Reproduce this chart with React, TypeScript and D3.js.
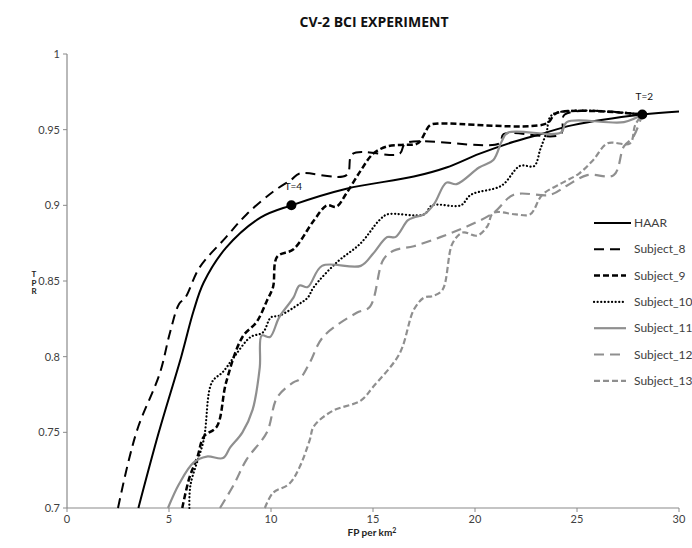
import React from "react";
import * as d3 from "d3";

type P = [number, number];

const title = "CV-2 BCI EXPERIMENT";
const xTicks = [0, 5, 10, 15, 20, 25, 30];
const yTicks = [0.7, 0.75, 0.8, 0.85, 0.9, 0.95, 1];

const haar: P[] = [[3.5,0.7],[4.5,0.75],[5.6,0.8],[6.2,0.83],[6.7,0.849],[7.8,0.872],[9.5,0.892],[11,0.9],[13.7,0.911],[17,0.919],[18.6,0.925],[20.2,0.934],[21.9,0.942],[23.2,0.947],[24.8,0.953],[28.2,0.96],[30,0.962]];
const subject8: P[] = [[2.5,0.7],[3.0,0.73],[3.5,0.754],[4.55,0.789],[5.05,0.816],[5.5,0.835],[5.8,0.839],[6.5,0.859],[7.8,0.879],[8.8,0.894],[10.1,0.909],[11.0,0.917],[11.4,0.921],[13.7,0.92],[14.0,0.934],[16.3,0.934],[16.6,0.941],[21.2,0.941],[21.4,0.947],[24.2,0.947],[24.4,0.96],[28.2,0.96]];
const subject9: P[] = [[5.65,0.7],[6.0,0.72],[6.4,0.734],[6.7,0.747],[7.35,0.754],[7.8,0.783],[8.6,0.813],[9.3,0.823],[9.8,0.837],[10.1,0.846],[10.3,0.866],[11.1,0.871],[12.1,0.89],[12.75,0.9],[13.2,0.899],[13.7,0.908],[14.4,0.923],[15.0,0.934],[15.7,0.939],[16.5,0.94],[17.2,0.941],[17.8,0.953],[18.2,0.954],[23.5,0.954],[24.0,0.961],[28.2,0.96]];
const subject10: P[] = [[6.0,0.7],[6.05,0.715],[6.7,0.745],[7.1,0.783],[7.65,0.79],[8.2,0.8],[9.0,0.813],[9.6,0.816],[10.0,0.826],[10.4,0.827],[11.4,0.835],[11.8,0.839],[12.1,0.846],[13.2,0.862],[14.4,0.875],[15.3,0.89],[15.7,0.894],[17.5,0.894],[17.9,0.9],[19.3,0.9],[19.8,0.907],[21.3,0.913],[22.2,0.926],[22.9,0.926],[23.2,0.937],[23.5,0.948],[23.8,0.96],[28.2,0.96]];
const subject11: P[] = [[4.95,0.7],[5.5,0.716],[6.2,0.73],[6.85,0.734],[7.65,0.733],[8.0,0.74],[8.6,0.75],[9.1,0.765],[9.45,0.793],[9.55,0.814],[9.95,0.813],[10.4,0.826],[11.1,0.839],[11.4,0.847],[11.8,0.846],[12.5,0.86],[14.4,0.86],[15.0,0.868],[15.7,0.879],[16.1,0.879],[16.7,0.89],[17.0,0.892],[17.5,0.894],[18.0,0.901],[18.6,0.915],[19.1,0.914],[20.2,0.925],[20.9,0.93],[21.3,0.942],[21.6,0.948],[24.2,0.948],[24.5,0.955],[27.3,0.955],[28.2,0.96]];
const subject12: P[] = [[7.5,0.7],[8.2,0.716],[8.8,0.732],[9.8,0.75],[10.3,0.773],[11.1,0.783],[11.4,0.785],[11.9,0.796],[12.55,0.813],[14.2,0.829],[14.85,0.833],[15.5,0.864],[16,0.87],[17,0.873],[18.3,0.879],[19.6,0.886],[20.9,0.895],[21.9,0.907],[23.7,0.907],[24.5,0.913],[25.5,0.92],[26.8,0.92],[27.3,0.939],[27.75,0.945],[28.2,0.96]];
const subject13: P[] = [[9.7,0.7],[10.1,0.71],[10.9,0.716],[11.4,0.727],[11.9,0.745],[12.1,0.754],[13.0,0.764],[14.4,0.771],[15,0.78],[16.3,0.802],[17,0.831],[17.5,0.839],[17.9,0.84],[18.4,0.844],[18.9,0.875],[19.4,0.882],[20.1,0.88],[20.6,0.886],[20.9,0.895],[22,0.894],[22.7,0.894],[23.3,0.907],[24.3,0.915],[25.1,0.921],[25.8,0.93],[26.5,0.941],[27.6,0.941],[27.85,0.953],[28.2,0.96]];

const markers: { x: number; y: number; label: string }[] = [
  { x: 11, y: 0.9, label: "T=4" },
  { x: 28.2, y: 0.96, label: "T=2" },
];

const BLACK = "#000";
const GRAY = "#8f8f8f";

const series = [
  { name: "HAAR", data: haar, color: BLACK, dash: "", width: 2, cap: "butt" },
  { name: "Subject_8", data: subject8, color: BLACK, dash: "10,6", width: 2, cap: "butt" },
  { name: "Subject_9", data: subject9, color: BLACK, dash: "6,3", width: 2.5, cap: "butt" },
  { name: "Subject_10", data: subject10, color: BLACK, dash: "0.1,3.5", width: 2.2, cap: "round" },
  { name: "Subject_11", data: subject11, color: GRAY, dash: "", width: 2.2, cap: "butt" },
  { name: "Subject_12", data: subject12, color: GRAY, dash: "10,6", width: 2.2, cap: "butt" },
  { name: "Subject_13", data: subject13, color: GRAY, dash: "6,3", width: 2.2, cap: "butt" },
];

export default function App() {
  const W = 692, H = 548;
  const x = d3.scaleLinear().domain([0, 30]).range([67, 679]);
  const y = d3.scaleLinear().domain([0.7, 1]).range([508, 54]);
  const line = d3
    .line<P>()
    .x((d) => x(d[0]))
    .y((d) => y(d[1]))
    .curve(d3.curveCatmullRom.alpha(0.5));
  const font = "Lato, 'Open Sans', sans-serif";
  const axisColor = "#8a8a8a";
  const textColor = "#404040";
  const legendY0 = 223;
  const legendStep = 26.3;

  return (
    <svg
      width={W}
      height={H}
      style={{ position: "absolute", left: 0, top: 0, background: "#fff" }}
      fontFamily={font}
    >
      <rect width={W} height={H} fill="#fff" />
      <text x={374} y={27} textAnchor="middle" fontSize={14} fontWeight={700} fill="#111" fontFamily="'Open Sans', sans-serif">
        {title}
      </text>

      {/* axes */}
      <line x1={x(0)} x2={x(0)} y1={y(1)} y2={y(0.7)} stroke={axisColor} strokeWidth={1.2} />
      <line x1={x(0)} x2={x(30)} y1={y(0.7)} y2={y(0.7)} stroke={axisColor} strokeWidth={1.2} />
      {yTicks.map((t) => (
        <g key={"y" + t}>
          <line x1={x(0) - 4} x2={x(0)} y1={y(t)} y2={y(t)} stroke={axisColor} strokeWidth={1} />
          <text x={x(0) - 7} y={y(t) + 4} textAnchor="end" fontSize={11} fill={textColor}>
            {t}
          </text>
        </g>
      ))}
      {xTicks.map((t) => (
        <g key={"x" + t}>
          <line x1={x(t)} x2={x(t)} y1={y(0.7)} y2={y(0.7) + 4} stroke={axisColor} strokeWidth={1} />
          <text x={x(t)} y={y(0.7) + 15} textAnchor="middle" fontSize={11} fill={textColor}>
            {t}
          </text>
        </g>
      ))}
      <text x={372} y={536} textAnchor="middle" fontSize={10} fontWeight={700} fill="#222">
        FP per km<tspan dy={-3} fontSize={7}>2</tspan>
      </text>
      {["T", "P", "R"].map((c, i) => (
        <text key={c} x={34} y={277 + i * 8.5} textAnchor="middle" fontSize={8} fontWeight={700} fill="#222">
          {c}
        </text>
      ))}

      {/* series */}
      {series.map((s) => (
        <path
          key={s.name}
          d={line(s.data) || ""}
          fill="none"
          stroke={s.color}
          strokeWidth={s.width}
          strokeDasharray={s.dash || undefined}
          strokeLinecap={s.cap as any}
          strokeLinejoin="round"
        />
      ))}

      {/* markers */}
      {markers.map((m) => (
        <g key={m.label}>
          <circle cx={x(m.x)} cy={y(m.y)} r={5} fill={BLACK} />
          <text x={x(m.x) + 2} y={y(m.y) - 15} textAnchor="middle" fontSize={10} fill="#111">
            {m.label}
          </text>
        </g>
      ))}

      {/* legend */}
      {series.map((s, i) => {
        const ly = legendY0 + i * legendStep;
        const x2 = i === 0 ? 631 : 626;
        return (
          <g key={"lg" + s.name}>
            <line
              x1={594}
              x2={x2}
              y1={ly}
              y2={ly}
              stroke={s.color}
              strokeWidth={s.width}
              strokeDasharray={s.dash || undefined}
              strokeLinecap={s.cap as any}
            />
            <text x={634} y={ly + 4} fontSize={12} fill={textColor}>
              {s.name}
            </text>
          </g>
        );
      })}
    </svg>
  );
}
